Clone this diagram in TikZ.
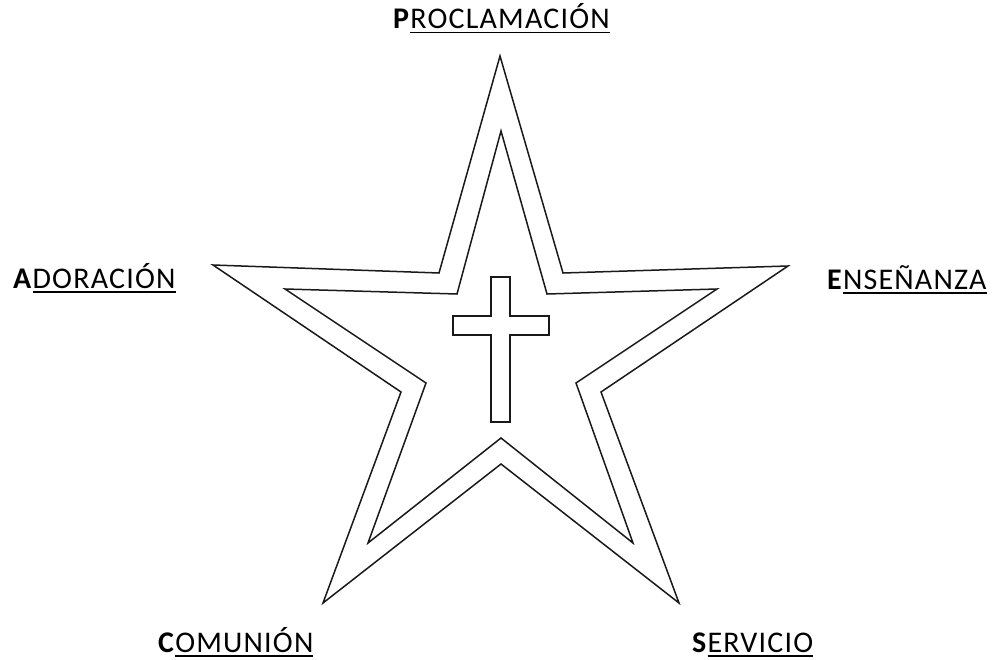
\documentclass[tikz,border=0pt]{standalone}
\usepackage{fontspec}
\setmainfont{Carlito}
\newfontfamily\labfont[LetterSpace=4]{Carlito}
\newcommand\ulword[1]{\setbox0\hbox{#1}\rlap{\rule[-4.5pt]{\wd0}{1.8pt}}\box0}
\newcommand\lbl[2]{\textbf{#1}\ulword{#2}}
\tikzset{
  starline/.style={draw=black!90, line width=1.5pt, line join=miter},
  lab/.style={anchor=base west, inner sep=0pt, font=\labfont\fontsize{30}{34}\selectfont}
}
\begin{document}
\begin{tikzpicture}[x=1pt,y=-1pt]
\useasboundingbox (0,0) rectangle (1006,660);
% outer star
\draw[starline] (500,56) -- (563,273) -- (788,266) -- (601,392) -- (679,603) -- (501,464)
  -- (323,603) -- (401,392) -- (213,265) -- (439,273) -- cycle;
% inner star
\draw[starline] (501,131) -- (547,294) -- (717,289) -- (576,383) -- (633,543) -- (501,438)
  -- (368,543) -- (426,383) -- (285,289) -- (457,294) -- cycle;
% cross
\draw[starline] (491,277) -- (510,277) -- (510,316) -- (549,316) -- (549,335) -- (510,335)
  -- (510,422) -- (491,422) -- (491,335) -- (453,335) -- (453,316) -- (491,316) -- cycle;
% labels
\node[lab] (p) at (393,29) {\lbl{P}{ROCLAMACIÓN}};
\node[lab] (a) at (13,288) {\lbl{A}{DORACIÓN}};
\node[lab] (e) at (827,289) {\lbl{E}{NSEÑANZA}};
\node[lab] (c) at (158,652) {\lbl{C}{OMUNIÓN}};
\node[lab] (s) at (692,652) {\lbl{S}{ERVICIO}};
\end{tikzpicture}
\end{document}
